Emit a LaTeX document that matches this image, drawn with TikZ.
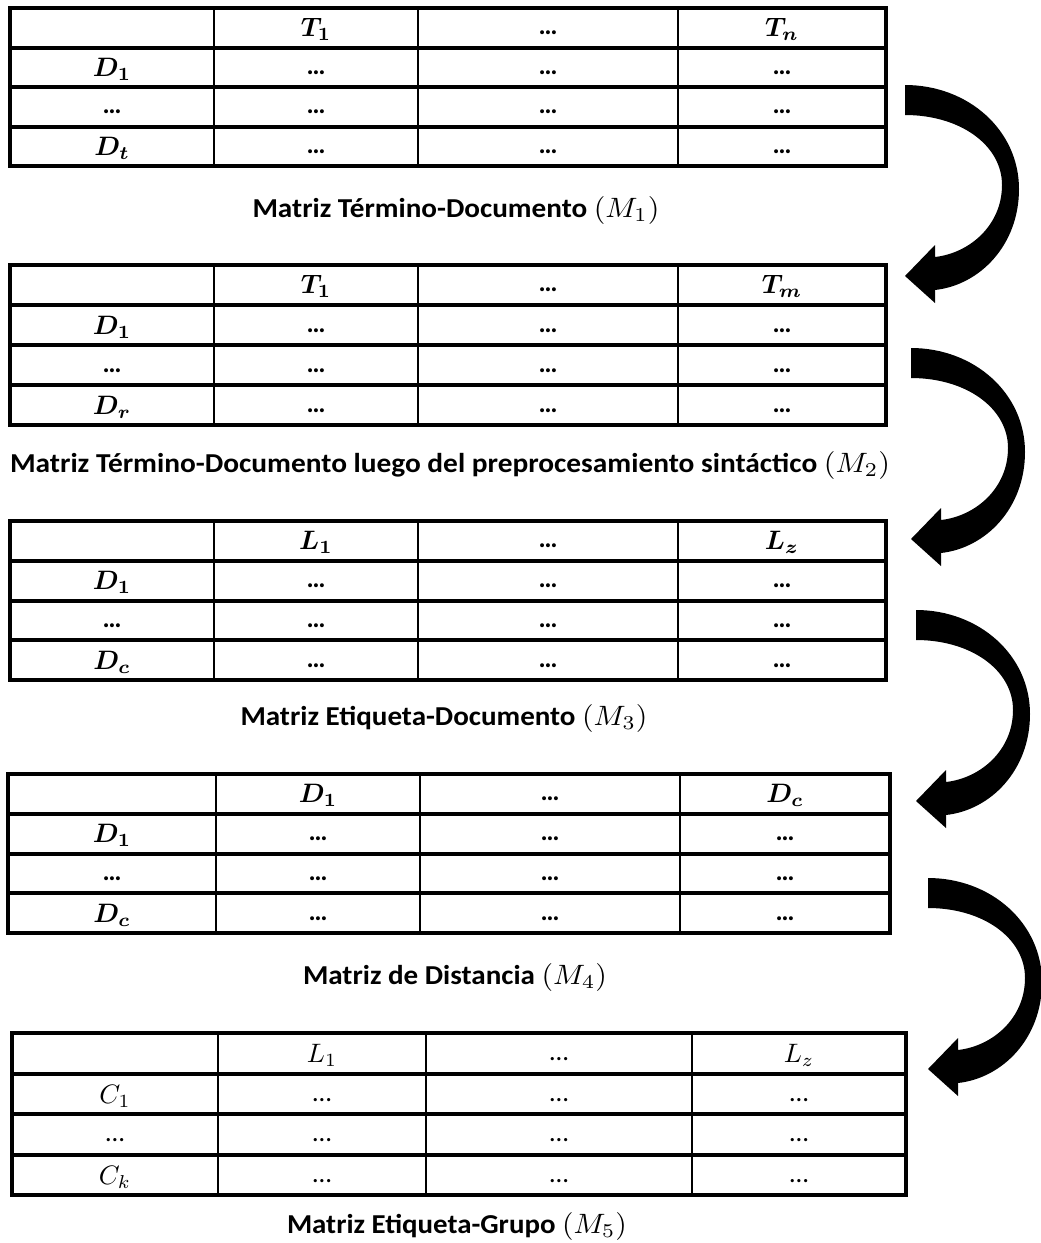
\documentclass[tikz,border=0pt]{standalone}
\usepackage{fontspec}
\setmainfont{Carlito}
\usepackage{bm}
\usepackage{graphicx}
\newsavebox\capbox
\newcommand\capfit[2]{\sbox\capbox{#2}\pgfmathsetmacro\capsc{#1/\wd\capbox}\scalebox{\capsc}[1]{\usebox\capbox}}
\newcommand\mth[1]{\scalebox{2}{\fontsize{10}{12}\selectfont$#1$}}
\newcommand\mcap[1]{\scalebox{2.1}{\fontsize{10}{12}\selectfont$#1$}}
\newcommand\dd{\raisebox{1.5pt}{\fontsize{20}{24}\selectfont\bfseries …}}
\newcommand\ddn{\raisebox{1.5pt}{\fontsize{20}{24}\selectfont …}}
\tikzset{
  gridh/.style={line width=3pt},
  gridv/.style={line width=2.2pt},
  cellt/.style={anchor=base, inner sep=0pt, font=\fontsize{15.5}{18}\selectfont},
  capt/.style={inner sep=0pt, font=\bfseries\fontsize{20.5}{24}\selectfont},
  blockarrow/.style={fill=black},
}
\newcommand\drawgrid[7]{%
  \pgfmathsetmacro\cza{(#1+#2)/2}%
  \pgfmathsetmacro\czb{(#2+#3)/2}%
  \pgfmathsetmacro\czc{(#3+#4)/2}%
  \pgfmathsetmacro\czd{(#4+#5)/2}%
  \pgfmathsetmacro\gtop{#6}%
  \pgfmathsetmacro\grh{(#7-#6)/4}%
  \foreach \xx in {#2,#3,#4} \draw[gridv] (\xx,#6) -- (\xx,#7);
  \foreach \k in {1,2,3} \draw[gridh] (#1,{#6+\k*\grh}) -- (#5,{#6+\k*\grh});
  \draw[gridh] (#1,#6) rectangle (#5,#7);
}
\newcommand\hrow[4]{%
  \pgfmathsetmacro\cby{\gtop+\grh-11.5}%
  \node[cellt] (#1r0b) at (\czb,\cby) {#2};
  \node[cellt] (#1r0c) at (\czc,\cby) {#3};
  \node[cellt] (#1r0d) at (\czd,\cby) {#4};
}
\newcommand\crow[6]{%
  \pgfmathsetmacro\cby{\gtop+(#2+1)*\grh-11}%
  \node[cellt] (#1r#2a) at (\cza,\cby) {#3};
  \node[cellt] (#1r#2b) at (\czb,\cby) {#4};
  \node[cellt] (#1r#2c) at (\czc,\cby) {#5};
  \node[cellt] (#1r#2d) at (\czd,\cby) {#6};
}
\newcommand\bigarrow[3]{%
  \coordinate (#1) at (#2,#3);
  \begin{scope}[shift={(#1)}]
    \fill[blockarrow] (0,0) .. controls (63,0) and (114,45) .. (114,104)
      .. controls (114,160) and (75,200) .. (30,205) -- (30,218) -- (0,191)
      -- (30,160) -- (30,172) .. controls (65,168) and (97,140) .. (97,100)
      .. controls (97,60) and (55,30) .. (0,30) -- cycle;
  \end{scope}
}
\begin{document}
\begin{tikzpicture}[x=0.75pt,y=-0.75pt]
\fill[white] (0,0) rectangle (1041,1243);
\useasboundingbox (0,0) rectangle (1041,1243);

% Table 1
\drawgrid{10}{214}{418}{678}{886}{8}{166}
\hrow{ta}{\mth{\bm{T_1}}}{\dd}{\mth{\bm{T_n}}}
\crow{ta}{1}{\mth{\bm{D_1}}}{\dd}{\dd}{\dd}
\crow{ta}{2}{\dd}{\dd}{\dd}{\dd}
\crow{ta}{3}{\mth{\bm{D_t}}}{\dd}{\dd}{\dd}
\node[capt] (cap1) at (456,210) {\capfit{305.25pt}{Matriz Término-Documento \mcap{(M_1)}}};

% Table 2
\drawgrid{10}{214}{418}{678}{886}{265}{425}
\hrow{tb}{\mth{\bm{T_1}}}{\dd}{\mth{\bm{T_m}}}
\crow{tb}{1}{\mth{\bm{D_1}}}{\dd}{\dd}{\dd}
\crow{tb}{2}{\dd}{\dd}{\dd}{\dd}
\crow{tb}{3}{\mth{\bm{D_r}}}{\dd}{\dd}{\dd}
\node[capt] (cap2) at (450,465) {\capfit{660pt}{Matriz Término-Documento luego del preprocesamiento sintáctico \mcap{(M_2)}}};

% Table 3
\drawgrid{10}{214}{418}{678}{886}{521}{680}
\hrow{tc}{\mth{\bm{L_1}}}{\dd}{\mth{\bm{L_z}}}
\crow{tc}{1}{\mth{\bm{D_1}}}{\dd}{\dd}{\dd}
\crow{tc}{2}{\dd}{\dd}{\dd}{\dd}
\crow{tc}{3}{\mth{\bm{D_c}}}{\dd}{\dd}{\dd}
\node[capt] (cap3) at (444,718) {\capfit{305.25pt}{Matriz Etiqueta-Documento \mcap{(M_3)}}};

% Table 4
\drawgrid{8}{216}{420}{680}{890}{774}{933}
\hrow{td}{\mth{\bm{D_1}}}{\dd}{\mth{\bm{D_c}}}
\crow{td}{1}{\mth{\bm{D_1}}}{\dd}{\dd}{\dd}
\crow{td}{2}{\dd}{\dd}{\dd}{\dd}
\crow{td}{3}{\mth{\bm{D_c}}}{\dd}{\dd}{\dd}
\node[capt] (cap4) at (455,977) {\capfit{228pt}{Matriz de Distancia \mcap{(M_4)}}};

% Table 5
\drawgrid{12}{218}{426}{692}{906}{1033}{1195}
\hrow{te}{\mth{L_1}}{\ddn}{\mth{L_z}}
\crow{te}{1}{\mth{C_1}}{\ddn}{\ddn}{\ddn}
\crow{te}{2}{\ddn}{\ddn}{\ddn}{\ddn}
\crow{te}{3}{\mth{C_k}}{\ddn}{\ddn}{\ddn}
\node[capt] (cap5) at (457,1226) {\capfit{255pt}{Matriz Etiqueta-Grupo \mcap{(M_5)}}};

% Curved block arrows
\bigarrow{arr1}{905}{85}
\bigarrow{arr2}{911}{348}
\bigarrow{arr3}{916}{610}
\bigarrow{arr4}{928}{878}
\end{tikzpicture}
\end{document}
